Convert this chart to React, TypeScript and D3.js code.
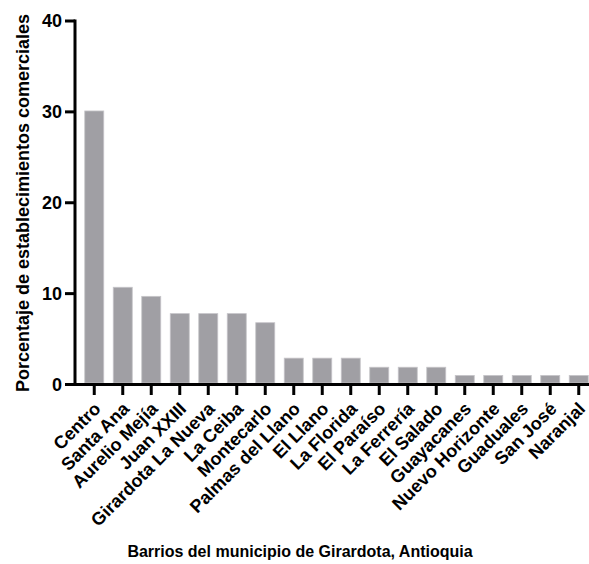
import React from "react";
import * as d3 from "d3";

const categories = [
  "Centro", "Santa Ana", "Aurelio Mejía", "Juan XXIII", "Girardota La Nueva",
  "La Ceiba", "Montecarlo", "Palmas del Llano", "El Llano", "La Florida",
  "El Paraíso", "La Ferrería", "El Salado", "Guayacanes", "Nuevo Horizonte",
  "Guaduales", "San José", "Naranjal",
];
const values = [30.1, 10.7, 9.7, 7.8, 7.8, 7.8, 6.8, 2.9, 2.9, 2.9, 1.9, 1.9, 1.9, 1.0, 1.0, 1.0, 1.0, 1.0];
const yTicks = [0, 10, 20, 30, 40];
const yTitle = "Porcentaje de establecimientos comerciales";
const xTitle = "Barrios del municipio de Girardota, Antioquia";

const W = 589;
const H = 564;
const FONT = "'Liberation Sans', Arial, sans-serif";

export default function App() {
  const x = d3.scaleBand<string>().domain(categories).range([80, 593]).paddingInner(0.333).paddingOuter(0.1665);
  const y = d3.scaleLinear().domain([0, 40]).range([384.5, 21]);
  const axisX = 75;
  const axisY = y(0);

  return (
    <svg width={W} height={H} style={{ position: "absolute", left: 0, top: 0 }} fontFamily={FONT}>
      <rect width={W} height={H} fill="#fff" />
      {values.map((v, i) => (
        <rect
          key={categories[i]}
          x={x(categories[i])!}
          y={y(v)}
          width={x.bandwidth()}
          height={axisY - y(v) - 1.5}
          fill="#a09fa4"
          stroke="#c6c5c9"
          strokeWidth={0.8}
        />
      ))}
      {/* y axis */}
      <line x1={axisX} x2={axisX} y1={y(40) - 1.5} y2={axisY + 1.5} stroke="#000" strokeWidth={3} />
      {yTicks.map((t) => (
        <g key={t}>
          <line x1={65} x2={axisX} y1={y(t)} y2={y(t)} stroke="#000" strokeWidth={3} />
          <text x={62} y={y(t)} dy="0.36em" textAnchor="end" fontSize={18} fontWeight="bold">
            {t}
          </text>
        </g>
      ))}
      {/* x axis */}
      <line x1={axisX - 1.5} x2={W} y1={axisY} y2={axisY} stroke="#000" strokeWidth={3} />
      {categories.map((c) => {
        const cx = x(c)! + x.bandwidth() / 2;
        return (
          <g key={c}>
            <line x1={cx} x2={cx} y1={axisY} y2={axisY + 10.5} stroke="#000" strokeWidth={3} />
            <text
              transform={`translate(${cx + 7.5},${410}) rotate(-45)`}
              textAnchor="end"
              fontSize={18}
              fontWeight="bold"
            >
              {c}
            </text>
          </g>
        );
      })}
      <text
        transform={`translate(28.5,${203}) rotate(-90)`}
        textAnchor="middle"
        fontSize={18}
        fontWeight="bold"
      >
        {yTitle}
      </text>
      <text x={300} y={557} textAnchor="middle" fontSize={16} fontWeight="bold">
        {xTitle}
      </text>
    </svg>
  );
}
